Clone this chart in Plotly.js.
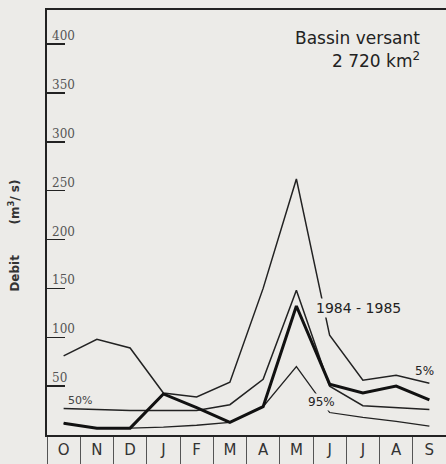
<!DOCTYPE html>
<html>
<head>
<meta charset="utf-8">
<script src="https://cdn.plot.ly/plotly-3.0.1.min.js"></script>
<style>html,body{margin:0;padding:0;background:#ecebe8;}#chart{width:446px;height:464px;}</style>
</head>
<body>
<div id="chart"></div>
<script>
// ---- data ----
const months = ['O','N','D','J','F','M','A','M','J','J','A','S'];
const q5   = [81, 98, 89, 43, 39, 54, 150, 262, 102, 56, 61, 53];
const q50  = [27, 26, 25, 25, 25, 31, 57, 148, 50, 30, 28, 26];
const q95  = [12, 7, 7, 8, 10, 13, 29, 70, 23, 18, 14, 9];
const y8485 = [12, 7, 7, 42, 28, 13, 29, 132, 52, 43, 50, 36];
const yTickVals = [50, 100, 150, 200, 250, 300, 350, 400];
const yTickText = ['50', '100', '150', '200', '250', '300', '350', '400'];

const idx = months.map((m, i) => i);
const seps = months.map((m, i) => i - 0.5);
const ink = '#222';
const bg = '#ecebe8';

const traces = [
  {x: idx, y: q5, mode: 'lines', line: {color: ink, width: 1.5}, name: '5%'},
  {x: idx, y: q50, mode: 'lines', line: {color: ink, width: 1.5}, name: '50%'},
  {x: idx, y: q95, mode: 'lines', line: {color: ink, width: 1.3}, name: '95%'},
  {x: idx, y: y8485, mode: 'lines', line: {color: '#111', width: 3}, name: '1984-1985'}
];

const tickAnn = yTickVals.map((v, i) => ({
  xref: 'paper', x: 0, xanchor: 'left', xshift: 3,
  yref: 'y', y: v, yanchor: 'bottom', yshift: -1,
  text: yTickText[i], showarrow: false,
  font: {family: 'DejaVu Serif', size: 12, color: '#555'}
}));

const lblFont = {family: 'DejaVu Sans', size: 14, color: '#222'};
const annotations = tickAnn.concat([
  {xref: 'paper', x: 0, xanchor: 'center', xshift: -33, yref: 'y', y: 204, yanchor: 'middle', textangle: -90,
   text: '<b>Debit</b>&nbsp;&nbsp;&nbsp;&nbsp;&nbsp;&nbsp;&nbsp;&nbsp;<b>(m<sup>3</sup>/ s)</b>', showarrow: false,
   font: {family: 'DejaVu Sans', size: 12, color: '#333'}},
  {xref: 'paper', x: 0.94, xanchor: 'right', yref: 'y', y: 406, yanchor: 'middle',
   text: 'Bassin versant', showarrow: false, font: {family: 'DejaVu Sans', size: 17, color: '#222'}},
  {xref: 'paper', x: 0.94, xanchor: 'right', yref: 'y', y: 384, yanchor: 'middle',
   text: '2 720 km<sup>2</sup>', showarrow: false, font: {family: 'DejaVu Sans', size: 17, color: '#222'}},
  {xref: 'x', x: 8.88, yref: 'y', y: 130, text: '1984 - 1985', showarrow: false,
   font: lblFont, bgcolor: bg},
  {xref: 'x', x: 10.85, yref: 'y', y: 65, text: '5%', showarrow: false,
   font: {family: 'DejaVu Sans', size: 12, color: '#222'}},
  {xref: 'x', x: 7.75, yref: 'y', y: 34, text: '95%', showarrow: false,
   font: {family: 'DejaVu Sans', size: 12, color: '#222'}, bgcolor: bg},
  {xref: 'x', x: 0.5, yref: 'y', y: 35, text: '50%', showarrow: false,
   font: {family: 'DejaVu Sans', size: 11, color: '#444'}}
]);

const layout = {
  width: 446, height: 464,
  margin: {l: 47, r: 0, t: 10, b: 29, pad: 0},
  paper_bgcolor: bg, plot_bgcolor: bg,
  showlegend: false,
  xaxis: {
    range: [-0.5, 11.5], tickvals: idx, ticktext: months, ticks: '',
    showline: true, mirror: true, linecolor: ink, linewidth: 2,
    showgrid: false, zeroline: false,
    tickfont: {family: 'DejaVu Sans', size: 15, color: '#333'},
    minor: {tickvals: seps, ticks: 'outside', ticklen: 27, tickcolor: '#555', tickwidth: 1, showgrid: false}
  },
  yaxis: {
    range: [0, 434.8], tickvals: yTickVals, ticks: 'inside', ticklen: 18,
    tickwidth: 1.5, tickcolor: ink, showticklabels: false,
    showline: true, linecolor: ink, linewidth: 2,
    showgrid: false, zeroline: false
  },
  annotations: annotations
};

Plotly.newPlot('chart', traces, layout, {displayModeBar: false, staticPlot: true});
</script>
</body>
</html>
